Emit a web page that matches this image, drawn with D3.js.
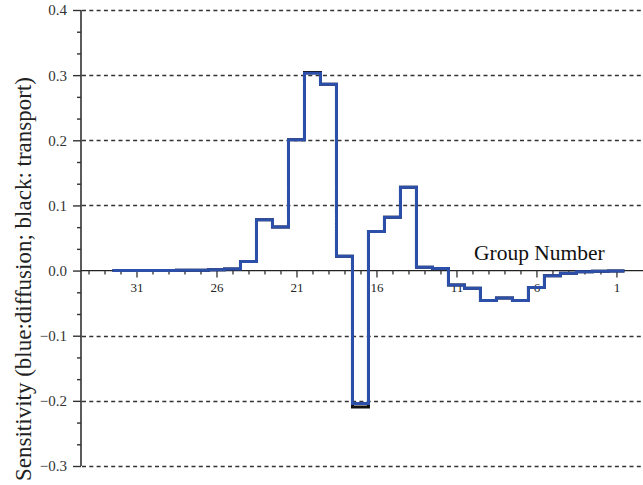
<!DOCTYPE html>
<html>
<head>
<meta charset="utf-8">
<script src="https://cdn.jsdelivr.net/npm/d3@7"></script>
<style>
  html, body { margin: 0; padding: 0; background: #fff; }
  svg { display: block; }
</style>
</head>
<body>
<svg id="chart" width="643" height="485"></svg>
<script>
// Energy groups, high (32) to low (1) as drawn left to right
const groups = d3.range(32, 0, -1);
// Sensitivity, diffusion (blue)
const diffusion = [0.0, 0.0, 0.0002, 0.0003, 0.0004, 0.0006, 0.0012, 0.0025,
  0.014, 0.078, 0.067, 0.201, 0.303, 0.286, 0.022, -0.204,
  0.060, 0.082, 0.128, 0.005, 0.003, -0.022, -0.027, -0.046,
  -0.042, -0.046, -0.026, -0.008, -0.004, -0.002, -0.001, -0.0005];
// Sensitivity, transport (black)
const transport = [0.0, 0.0, 0.0002, 0.0003, 0.0004, 0.0006, 0.0012, 0.0025,
  0.014, 0.078, 0.067, 0.201, 0.304, 0.286, 0.022, -0.2095,
  0.060, 0.082, 0.128, 0.005, 0.003, -0.022, -0.027, -0.046,
  -0.042, -0.046, -0.026, -0.008, -0.004, -0.002, -0.001, -0.0005];
const yTicks = [-0.3, -0.2, -0.1, 0.0, 0.1, 0.2, 0.3, 0.4];
const xTickLabels = [31, 26, 21, 16, 11, 6, 1];
const xTickGroups = d3.range(1, 35);

const svg = d3.select("#chart");
const W = 643;
const x = d3.scaleLinear().domain([34.5, -0.66]).range([80.5, 643]);
const y = d3.scaleLinear().domain([-0.3, 0.4]).range([466, 10]);
const serif = "'Liberation Serif', 'Times New Roman', serif";

// Dashed gridlines
svg.append("g").selectAll("line")
  .data(yTicks.filter(d => d !== 0))
  .join("line")
  .attr("x1", 82).attr("x2", W)
  .attr("y1", d => Math.round(y(d)) + 0.5).attr("y2", d => Math.round(y(d)) + 0.5)
  .attr("stroke", "#333").attr("stroke-width", 1.3)
  .attr("stroke-dasharray", "4,3.3");

// Y axis
const yMinor = [];
for (let i = 0; i < 7; i++) {
  const a = yTicks[i];
  yMinor.push(a + 0.1 / 3, a + 0.2 / 3);
}
const yAxisG = svg.append("g").attr("transform", "translate(81,0)");
yAxisG.append("line").attr("x1", 0).attr("x2", 0)
  .attr("y1", y(0.4)).attr("y2", y(-0.3))
  .attr("stroke", "#333").attr("stroke-width", 1.6);
yAxisG.append("g").call(d3.axisLeft(y).tickValues(yMinor).tickSize(4).tickFormat(""))
  .call(g => g.select(".domain").remove())
  .call(g => g.selectAll("line").attr("stroke", "#333").attr("stroke-width", 1.4));
yAxisG.append("g").call(d3.axisLeft(y).tickValues(yTicks).tickSize(8)
    .tickFormat(d => d === 0 ? "0.0" : d3.format(".1f")(d)).tickPadding(6))
  .call(g => g.select(".domain").remove())
  .call(g => g.selectAll("line").attr("stroke", "#333").attr("stroke-width", 1.4))
  .call(g => g.selectAll("text").attr("font-family", serif).attr("font-size", 15)
    .attr("fill", "#333").attr("dy", "0.33em"));

// X axis (at y = 0)
const xAxisG = svg.append("g").attr("transform", `translate(0,${y(0)})`);
xAxisG.append("line").attr("x1", 81).attr("x2", W).attr("y1", 0).attr("y2", 0)
  .attr("stroke", "#222").attr("stroke-width", 1.3);
xAxisG.append("g").call(d3.axisBottom(x).tickValues(xTickGroups.filter(g => !xTickLabels.includes(g)))
    .tickSize(4).tickFormat(""))
  .call(g => g.select(".domain").remove())
  .call(g => g.selectAll("line").attr("stroke", "#333").attr("stroke-width", 1.3));
xAxisG.append("g").call(d3.axisBottom(x).tickValues(xTickLabels).tickSize(7)
    .tickFormat(d3.format("d")).tickPadding(5))
  .call(g => g.select(".domain").remove())
  .call(g => g.selectAll("line").attr("stroke", "#333").attr("stroke-width", 1.3))
  .call(g => g.selectAll("text").attr("font-family", serif).attr("font-size", 13).attr("fill", "#222"));

// Step lines
function stepPoints(vals) {
  const pts = groups.map((g, i) => [g + 0.5, vals[i]]);
  pts.push([groups[groups.length - 1] - 0.5, vals[vals.length - 1]]);
  return pts;
}
const line = d3.line().x(d => x(d[0])).y(d => y(d[1])).curve(d3.curveStepAfter);
svg.append("path").datum(stepPoints(transport))
  .attr("d", line).attr("fill", "none").attr("stroke", "#111").attr("stroke-width", 3)
  .attr("stroke-linejoin", "miter");
svg.append("path").datum(stepPoints(diffusion))
  .attr("d", line).attr("fill", "none").attr("stroke", "#2c4faa").attr("stroke-width", 3)
  .attr("stroke-linejoin", "miter");

// Axis titles
svg.append("text").attr("x", 474).attr("y", 260)
  .attr("font-family", serif).attr("font-size", 21.5).attr("fill", "#111")
  .text("Group Number");
svg.append("text")
  .attr("transform", "translate(31,279) rotate(-90)")
  .attr("text-anchor", "middle")
  .attr("font-family", serif).attr("font-size", 23).attr("fill", "#222")
  .text("Sensitivity (blue:diffusion; black: transport)");
</script>
</body>
</html>
